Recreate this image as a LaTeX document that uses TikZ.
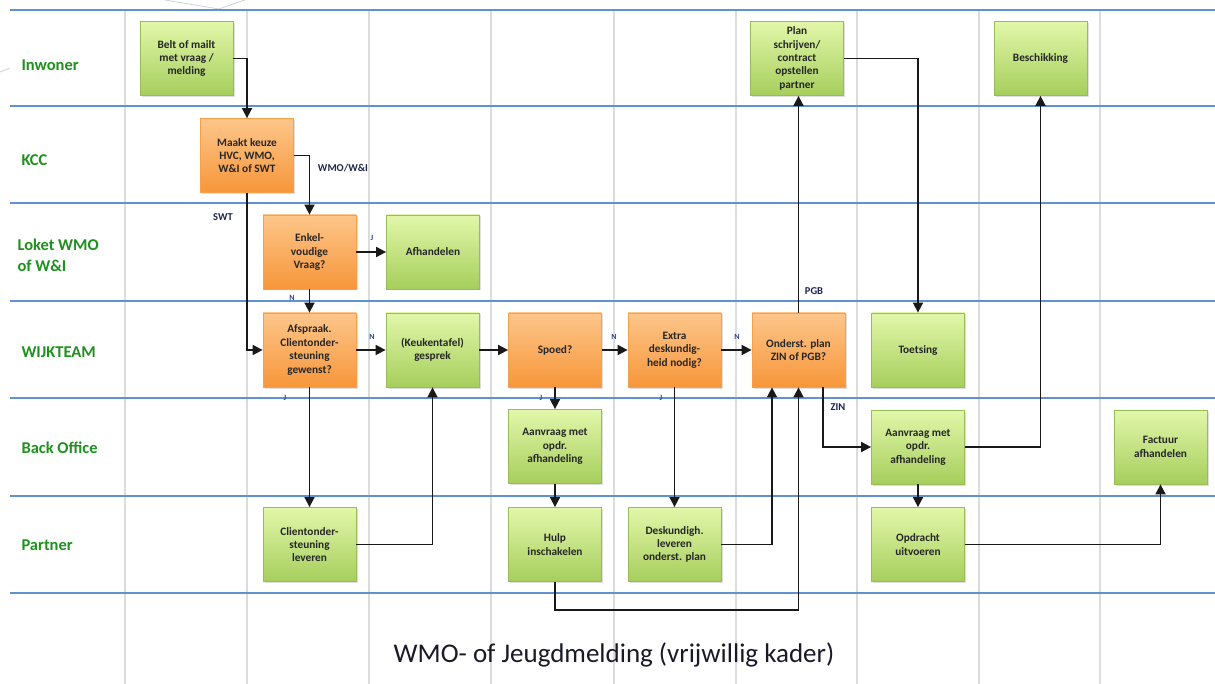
\documentclass[tikz,border=0pt]{standalone}
\usepackage{fontspec}
\setmainfont{Carlito}
\usetikzlibrary{arrows.meta,shadows}
\definecolor{lanegreen}{RGB}{30,145,30}
\definecolor{laneblue}{RGB}{96,146,210}
\definecolor{gridgray}{RGB}{220,220,220}
\definecolor{gtop}{RGB}{226,247,170}
\definecolor{gbot}{RGB}{166,206,92}
\definecolor{gborder}{RGB}{152,188,86}
\definecolor{otop}{RGB}{253,198,138}
\definecolor{obot}{RGB}{247,150,58}
\definecolor{oborder}{RGB}{246,160,78}
\definecolor{navy}{RGB}{30,38,80}
\definecolor{ynblue}{RGB}{40,70,150}
\definecolor{deco}{RGB}{200,210,225}
\definecolor{titlecol}{RGB}{25,25,40}
\begin{document}
\begin{tikzpicture}[x=1pt,y=-1pt,
  box/.style={minimum width=93pt,minimum height=74pt,inner sep=1pt,align=center,
    font=\bfseries\fontsize{11.3}{13.4}\selectfont,text=black!85,
    drop shadow={opacity=0.25,shadow xshift=1.5pt,shadow yshift=-1.5pt}},
  gbox/.style={box,draw=gborder,line width=0.8pt,top color=gtop,bottom color=gbot},
  obox/.style={box,draw=oborder,line width=0.8pt,top color=otop,bottom color=obot},
  arr/.style={draw=black!90,line width=1.7pt,-{Triangle[length=10pt,width=10pt]}},
  lbl/.style={font=\bfseries\fontsize{10.5}{12}\selectfont,text=navy},
  yn/.style={font=\bfseries\fontsize{8}{9}\selectfont,text=ynblue},
  lane/.style={anchor=west,font=\bfseries\fontsize{16.5}{21}\selectfont,text=lanegreen,align=left},
  gridv/.style={draw=gridgray,line width=1.4pt},
  gridh/.style={draw=laneblue,line width=1.2pt},
  decoline/.style={draw=deco,line width=0.8pt}]
\useasboundingbox (0,0) rectangle (1215,684);
\fill[white] (0,0) rectangle (1215,684);
% faint decorations
\draw[decoline] (165,0) .. controls (195,5) .. (219,9) .. controls (230,5) .. (245,0);
\draw[decoline] (0,72) .. controls (5,70) .. (10,68);
% grid
\foreach \x in {125,247,369,491,614,736,857,979,1100}
  \draw[gridv] (\x,10) -- (\x,684);
\foreach \y in {10,106,203,301,398,496,593}
  \draw[gridh] (10,\y) -- (1215,\y);
% lane labels
\node[lane] (lInw) at (18,65) {Inwoner};
\node[lane] (lKcc) at (18,160) {KCC};
\node[lane] (lLok) at (14,255) {Loket WMO\\of W\&I};
\node[lane] (lWijk) at (18,352) {WIJKTEAM};
\node[lane] (lBack) at (18,448) {Back Office};
\node[lane] (lPart) at (18,545) {Partner};
% boxes
\node[gbox] (belt) at (186.5,58.5) {Belt of mailt\\met vraag /\\melding};
\node[gbox] (plan) at (797,58.5) {Plan\\schrijven/\\contract\\opstellen\\partner};
\node[gbox] (besch) at (1040.5,58.5) {Beschikking};
\node[obox] (keuze) at (247,155.5) {Maakt keuze\\HVC, WMO,\\W\&I of SWT};
\node[obox] (enkel) at (309.5,252) {Enkel-\\voudige\\Vraag?};
\node[gbox] (afh) at (433,252) {Afhandelen};
\node[obox] (afspr) at (309.5,350) {Afspraak.\\Clientonder-\\steuning\\gewenst?};
\node[gbox] (keuk) at (432.5,350) {(Keukentafel)\\gesprek};
\node[obox] (spoed) at (555,350) {Spoed?};
\node[obox] (extra) at (674.5,350) {Extra\\deskundig-\\heid nodig?};
\node[obox] (onder) at (798.5,350) {Onderst. plan\\ZIN of PGB?};
\node[gbox] (toets) at (918,350) {Toetsing};
\node[gbox] (aanv1) at (555,446.5) {Aanvraag met\\opdr.\\afhandeling};
\node[gbox] (aanv2) at (918,447) {Aanvraag met\\opdr.\\afhandeling};
\node[gbox] (fact) at (1160.5,447) {Factuur\\afhandelen};
\node[gbox] (client) at (309.5,544.5) {Clientonder-\\steuning\\leveren};
\node[gbox] (hulp) at (555,544.5) {Hulp\\inschakelen};
\node[gbox] (desk) at (674.5,544.5) {Deskundigh.\\leveren\\onderst. plan};
\node[gbox] (opdr) at (918,544.5) {Opdracht\\uitvoeren};
% connectors
\draw[arr] (belt.east) -| (keuze.north);
\draw[arr] (keuze.east) -| (enkel.north);
\draw[arr] (keuze.south) |- (afspr.west);
\draw[arr] (enkel.east) -- (afh.west);
\draw[arr] (enkel.south) -- (afspr.north);
\draw[arr] (afspr.east) -- (keuk.west);
\draw[arr] (afspr.south) -- (client.north);
\draw[arr] (client.east) -| (keuk.south);
\draw[arr] (keuk.east) -- (spoed.west);
\draw[arr] (spoed.east) -- (extra.west);
\draw[arr] (spoed.south) -- (aanv1.north);
\draw[arr] (aanv1.south) -- (hulp.north);
\draw[arr] (extra.east) -- (onder.west);
\draw[arr] (extra.south) -- (desk.north);
\draw[arr] (desk.east) -| ([xshift=-26.5pt]onder.south);
\coordinate (loop) at (555,610);
\draw[arr] (hulp.south) -- (loop) -| (onder.south);
\draw[arr] (onder.north) -- (onder.north |- plan.south);
\draw[arr] ([xshift=24.5pt]onder.south) |- (aanv2.west);
\draw[arr] (plan.east) -| (toets.north);
\draw[arr] (aanv2.east) -| (besch.south);
\draw[arr] (aanv2.south) -- (opdr.north);
\draw[arr] (opdr.east) -| (fact.south);
% connector labels
\node[lbl] (tWmo) at (343,168) {WMO/W\&I};
\node[lbl] (tSwt) at (223,217) {SWT};
\node[lbl] (tPgb) at (814,291) {PGB};
\node[lbl] (tZin) at (838,407) {ZIN};
\node[yn] (y1) at (372,238) {J};
\node[yn] (n1) at (292,298) {N};
\node[yn] (n2) at (372,337) {N};
\node[yn] (y2) at (285,398) {J};
\node[yn] (y3) at (541,398) {J};
\node[yn] (n3) at (614,337) {N};
\node[yn] (y4) at (661,398) {J};
\node[yn] (n4) at (737,337) {N};
% title
\node[font=\fontsize{27}{32}\selectfont,text=titlecol] (title) at (614,655) {WMO- of Jeugdmelding (vrijwillig kader)};
\end{tikzpicture}
\end{document}
